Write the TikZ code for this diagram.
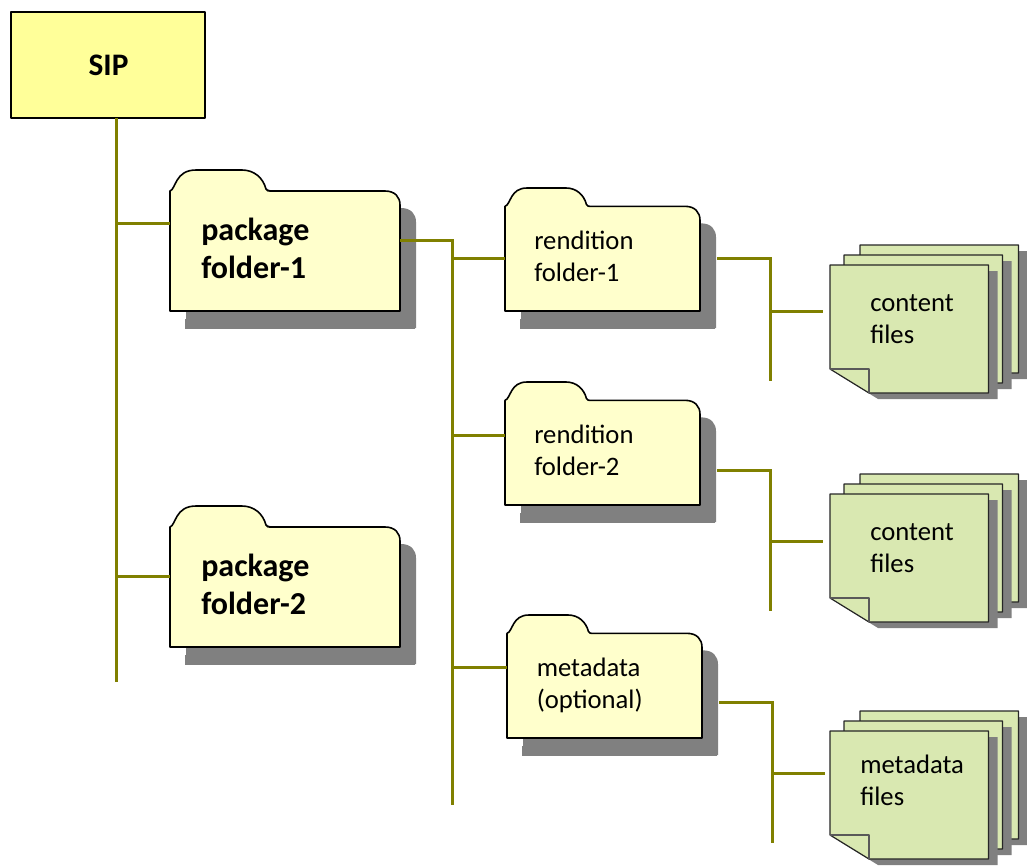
\documentclass[tikz,border=0pt]{standalone}
\usepackage{fontspec}
\setmainfont{Carlito}
\definecolor{fy}{HTML}{FFFFCC}
\definecolor{fs}{HTML}{FFFF99}
\definecolor{fg}{HTML}{D9E8B1}
\definecolor{sh}{HTML}{808080}
\definecolor{ol}{HTML}{808000}
\tikzset{
  x=0.75pt,y=-0.75pt,
  outline/.style={draw=black,line width=1.2pt,line join=round},
  thinline/.style={draw=black!85,line width=0.9pt,line join=round},
  wire/.style={draw=ol,line width=2.25pt},
  anchorbox/.style={inner sep=0pt,outer sep=0pt,anchor=north west},
  big/.style={anchor=base west,inner sep=0pt,yshift=-0.6pt,font=\fontsize{24}{28}\selectfont\bfseries},
  small/.style={anchor=base west,inner sep=0pt,yshift=-0.6pt,font=\fontsize{20}{24}\selectfont},
}
\newcommand{\folderpath}{(0,\ty) .. controls (6,\ty-2) and (5,0) .. (26*\fsc,0)
      -- (72*\fsc,0) .. controls (84*\fsc,0) and (93*\fsc,8*\ty/22) .. (96*\fsc,\ty-2)
      .. controls (97*\fsc,\ty) and (98*\fsc,\ty) .. (102*\fsc,\ty)
      -- (\fr,\ty) .. controls (\fw-5,\ty) and (\fw,\fb-8) .. (\fw,\fb)
      -- (\fw,\fh) -- (0,\fh) -- cycle}
% name, x, y, width, height
\newcommand{\folderbox}[5]{%
  \begin{scope}[shift={(#2,#3)}]
    \pgfmathsetmacro{\fw}{#4}\pgfmathsetmacro{\fh}{#5}
    \pgfmathsetmacro{\fsc}{#4/230}
    \pgfmathsetmacro{\ty}{21*\fh/141}
    \pgfmathsetmacro{\fr}{\fw-15}
    \pgfmathsetmacro{\fb}{\ty+14}
    \fill[sh,shift={(16,17)}] \folderpath;
    \fill[sh,shift={(15,18)}] (0,\fh-10) rectangle (\fw,\fh);
    \path[outline,fill=fy] \folderpath;
    \node[anchorbox,minimum width=#4*0.75pt,minimum height=#5*0.75pt] (#1) at (0,0) {};
    \node[anchorbox,minimum width=(#4+17)*0.75pt,minimum height=(#5+17)*0.75pt] (#1s) at (0,0) {};
  \end{scope}}
\newcommand{\sheetpath}{(0,0) -- (158.5,0) -- (158.5,128) -- (39,128) -- (0,104) -- cycle}
\newcommand{\filestack}[3]{%
  \begin{scope}[shift={(#2,#3)}]
    \begin{scope}[shift={(30,-20)}]
      \fill[sh,shift={(9,6)}] \sheetpath;
      \path[thinline,fill=fg] \sheetpath;
    \end{scope}
    \begin{scope}[shift={(14,-10)}]
      \fill[sh,shift={(9,6)}] \sheetpath;
      \path[thinline,fill=fg] \sheetpath;
    \end{scope}
    \fill[sh,shift={(9,6)}] \sheetpath;
    \path[thinline,fill=fg] \sheetpath;
    \draw[draw=black!65,line width=0.9pt,line join=round] (0,104) -- (39,104) -- (39,128);
    \node[anchorbox,minimum width=118.5pt,minimum height=96pt] (#1) at (0,0) {};
  \end{scope}}
\begin{document}
\begin{tikzpicture}
\useasboundingbox (0,0) rectangle (1027,865);
% boxes
\node[anchorbox,minimum width=145.5pt,minimum height=79.5pt,outline,fill=fs] (sip) at (11,12) {};
\node[anchor=base,inner sep=0pt,font=\fontsize{23.5}{28}\selectfont\bfseries] (siplabel) at (108.5,75.5) {SIP};
\folderbox{pf1}{170}{170}{230}{141}
\folderbox{pf2}{170}{506}{230}{141}
\folderbox{rf1}{505}{188}{195}{123}
\folderbox{rf2}{505}{382}{195}{123}
\folderbox{md}{507}{615}{195}{123}
\filestack{cf1}{830}{265}
\filestack{cf2}{830}{494}
\filestack{mf}{830}{731}
% labels
\node[big] (l1a) at (201,240) {package};
\node[big] (l1b) at (201,278) {folder-1};
\node[big] (l2a) at (201,576) {package};
\node[big] (l2b) at (201,614) {folder-2};
\node[small] (r1a) at (534,249) {rendition};
\node[small] (r1b) at (534,281) {folder-1};
\node[small] (r2a) at (534,443) {rendition};
\node[small] (r2b) at (534,475) {folder-2};
\node[small] (m1a) at (536.5,676) {metadata};
\node[small] (m1b) at (536.5,708) {(optional)};
\node[small] (c1a) at (870,311) {content};
\node[small] (c1b) at (870,343) {files};
\node[small] (c2a) at (870,540) {content};
\node[small] (c2b) at (870,572) {files};
\node[small] (m2a) at (860,773) {metadata};
\node[small] (m2b) at (860,805) {files};
% junctions and free ends
\coordinate (t0) at (116,223);
\coordinate (t1) at (116,576);
\coordinate (t2) at (116,682);
\coordinate (u0) at (452,240);
\coordinate (u1) at (452,258);
\coordinate (u2) at (452,435);
\coordinate (u3) at (452,667);
\coordinate (u4) at (452,805);
\coordinate (v0) at (770,258);
\coordinate (v1) at (770,311);
\coordinate (v2) at (770,381);
\coordinate (w0) at (770,470);
\coordinate (w1) at (770,541);
\coordinate (w2) at (770,611);
\coordinate (y0) at (772,702);
\coordinate (y1) at (772,773);
\coordinate (y2) at (772,843);
% connectors
\draw[wire] (sip.south -| t0) -- (t2);
\draw[wire] (t0) -- (pf1.west |- t0);
\draw[wire] (t1) -- (pf2.west |- t1);
\draw[wire] (pf1.east |- u0) -- (u0) -- (u4);
\draw[wire] (u1) -- (rf1.west |- u1);
\draw[wire] (u2) -- (rf2.west |- u2);
\draw[wire] (u3) -- (md.west |- u3);
\draw[wire] (rf1s.east |- v0) -- (v0) -- (v2);
\draw[wire] (v1) -- ([xshift=-5.25pt]cf1.west |- v1);
\draw[wire] (rf2s.east |- w0) -- (w0) -- (w2);
\draw[wire] (w1) -- ([xshift=-5.25pt]cf2.west |- w1);
\draw[wire] (mds.east |- y0) -- (y0) -- (y2);
\draw[wire] (y1) -- ([xshift=-3.75pt]mf.west |- y1);
\end{tikzpicture}
\end{document}
